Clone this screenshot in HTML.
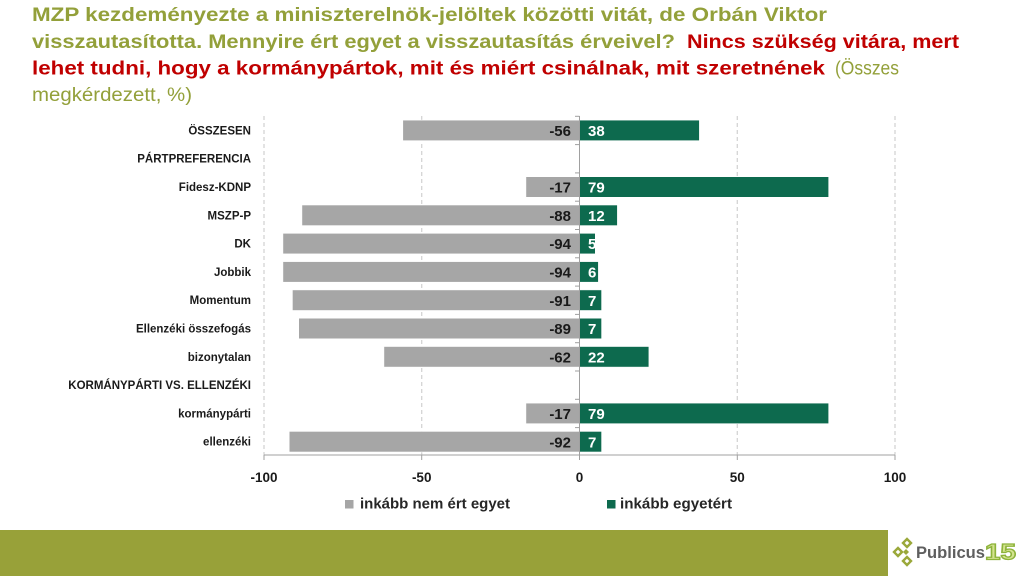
<!DOCTYPE html>
<html>
<head>
<meta charset="utf-8">
<style>
html,body{margin:0;padding:0;background:#fff;}
body{width:1024px;height:576px;overflow:hidden;}
svg{display:block;}
text{font-family:"Liberation Sans",Arial,sans-serif;}
</style>
</head>
<body>
<svg width="1024" height="576" viewBox="0 0 1024 576" xmlns="http://www.w3.org/2000/svg">
<rect width="1024" height="576" fill="#fff"/>

<!-- Title -->
<g font-size="19.5" font-weight="bold">
<text x="32" y="21" fill="#93a03a" textLength="795" lengthAdjust="spacingAndGlyphs">MZP kezdeményezte a miniszterelnök-jelöltek közötti vitát, de Orbán Viktor</text>
<text x="32" y="48" fill="#93a03a" textLength="643" lengthAdjust="spacingAndGlyphs">visszautasította. Mennyire ért egyet a visszautasítás érveivel?</text>
<text x="687" y="48" fill="#c00000" textLength="272" lengthAdjust="spacingAndGlyphs">Nincs szükség vitára, mert</text>
<text x="32" y="74.5" fill="#c00000" textLength="793" lengthAdjust="spacingAndGlyphs">lehet tudni, hogy a kormánypártok, mit és miért csinálnak, mit szeretnének</text>
</g>
<g font-size="19.5" font-weight="normal" fill="#93a03a">
<text x="835" y="74.5" textLength="64" lengthAdjust="spacingAndGlyphs">(Összes</text>
<text x="32" y="101" textLength="160" lengthAdjust="spacingAndGlyphs">megkérdezett, %)</text>
</g>

<!-- Gridlines -->
<g stroke="#d4d4d4" stroke-width="1.3" stroke-dasharray="4,3">
<line x1="264" y1="116" x2="264" y2="455"/>
<line x1="421.7" y1="116" x2="421.7" y2="455"/>
<line x1="737.3" y1="116" x2="737.3" y2="455"/>
<line x1="895" y1="116" x2="895" y2="455"/>
</g>

<!-- Bars -->
<g stroke="#ffffff" stroke-width="0.6">
<g fill="#a6a6a6">
<rect x="402.8" y="120.1" width="176.7" height="20.6"/>
<rect x="525.9" y="176.7" width="53.6" height="20.6"/>
<rect x="301.9" y="205.0" width="277.6" height="20.6"/>
<rect x="282.9" y="233.3" width="296.6" height="20.6"/>
<rect x="282.9" y="261.6" width="296.6" height="20.6"/>
<rect x="292.4" y="289.9" width="287.1" height="20.6"/>
<rect x="298.7" y="318.2" width="280.8" height="20.6"/>
<rect x="383.9" y="346.5" width="195.6" height="20.6"/>
<rect x="525.9" y="403.1" width="53.6" height="20.6"/>
<rect x="289.2" y="431.4" width="290.3" height="20.6"/>
</g>
<g fill="#0d6a4e">
<rect x="579.5" y="120.1" width="119.9" height="20.6"/>
<rect x="579.5" y="176.7" width="249.2" height="20.6"/>
<rect x="579.5" y="205.0" width="37.9" height="20.6"/>
<rect x="579.5" y="233.3" width="15.8" height="20.6"/>
<rect x="579.5" y="261.6" width="18.9" height="20.6"/>
<rect x="579.5" y="289.9" width="22.1" height="20.6"/>
<rect x="579.5" y="318.2" width="22.1" height="20.6"/>
<rect x="579.5" y="346.5" width="69.4" height="20.6"/>
<rect x="579.5" y="403.1" width="249.2" height="20.6"/>
<rect x="579.5" y="431.4" width="22.1" height="20.6"/>
</g>
</g>

<!-- Axes -->
<g stroke="#a0a0a0" stroke-width="1">
<line x1="579.5" y1="116" x2="579.5" y2="455"/>
<line x1="264" y1="455" x2="895" y2="455"/>
<line x1="575" y1="116.3" x2="579.5" y2="116.3"/>
<line x1="575" y1="144.6" x2="579.5" y2="144.6"/>
<line x1="575" y1="172.9" x2="579.5" y2="172.9"/>
<line x1="575" y1="201.2" x2="579.5" y2="201.2"/>
<line x1="575" y1="229.5" x2="579.5" y2="229.5"/>
<line x1="575" y1="257.8" x2="579.5" y2="257.8"/>
<line x1="575" y1="286.1" x2="579.5" y2="286.1"/>
<line x1="575" y1="314.4" x2="579.5" y2="314.4"/>
<line x1="575" y1="342.7" x2="579.5" y2="342.7"/>
<line x1="575" y1="371.0" x2="579.5" y2="371.0"/>
<line x1="575" y1="399.3" x2="579.5" y2="399.3"/>
<line x1="575" y1="427.6" x2="579.5" y2="427.6"/>
<line x1="264" y1="455" x2="264" y2="460"/>
<line x1="421.7" y1="455" x2="421.7" y2="460"/>
<line x1="579.5" y1="455" x2="579.5" y2="460"/>
<line x1="737.3" y1="455" x2="737.3" y2="460"/>
<line x1="895" y1="455" x2="895" y2="460"/>
</g>

<!-- Category labels -->
<g font-size="11.5" font-weight="bold" fill="#1a1a1a" text-anchor="end">
<text x="251" y="134.4">ÖSSZESEN</text>
<text x="251" y="162.7">PÁRTPREFERENCIA</text>
<text x="251" y="191.0">Fidesz-KDNP</text>
<text x="251" y="219.3">MSZP-P</text>
<text x="251" y="247.6">DK</text>
<text x="251" y="275.9">Jobbik</text>
<text x="251" y="304.2">Momentum</text>
<text x="251" y="332.5">Ellenzéki összefogás</text>
<text x="251" y="360.8">bizonytalan</text>
<text x="251" y="389.1">KORMÁNYPÁRTI VS. ELLENZÉKI</text>
<text x="251" y="417.4">kormánypárti</text>
<text x="251" y="445.7">ellenzéki</text>
</g>

<!-- Negative data labels -->
<g font-size="15" font-weight="bold" fill="#1a1a1a" text-anchor="end">
<text x="571" y="136">-56</text>
<text x="571" y="192.6">-17</text>
<text x="571" y="220.9">-88</text>
<text x="571" y="249.2">-94</text>
<text x="571" y="277.5">-94</text>
<text x="571" y="305.8">-91</text>
<text x="571" y="334.1">-89</text>
<text x="571" y="362.4">-62</text>
<text x="571" y="419.0">-17</text>
<text x="571" y="447.3">-92</text>
</g>
<!-- Positive data labels -->
<g font-size="15" font-weight="bold" fill="#ffffff">
<text x="588" y="136">38</text>
<text x="588" y="192.6">79</text>
<text x="588" y="220.9">12</text>
<text x="588" y="249.2">5</text>
<text x="588" y="277.5">6</text>
<text x="588" y="305.8">7</text>
<text x="588" y="334.1">7</text>
<text x="588" y="362.4">22</text>
<text x="588" y="419.0">79</text>
<text x="588" y="447.3">7</text>
</g>

<!-- Tick labels -->
<g font-size="13.5" font-weight="bold" fill="#1a1a1a" text-anchor="middle">
<text x="264" y="482">-100</text>
<text x="421.7" y="482">-50</text>
<text x="579.5" y="482">0</text>
<text x="737.3" y="482">50</text>
<text x="895" y="482">100</text>
</g>

<!-- Legend -->
<rect x="345" y="500" width="8.5" height="8.5" fill="#a6a6a6"/>
<text x="360" y="508.5" font-size="14.5" font-weight="bold" fill="#262626" textLength="150" lengthAdjust="spacingAndGlyphs">inkább nem ért egyet</text>
<rect x="607" y="500" width="8.5" height="8.5" fill="#0d6a4e"/>
<text x="620" y="508.5" font-size="14.5" font-weight="bold" fill="#262626" textLength="112" lengthAdjust="spacingAndGlyphs">inkább egyetért</text>

<!-- Footer band -->
<rect x="0" y="530" width="888" height="46" fill="#98a139"/>

<!-- Logo -->
<g fill="none" stroke="#9aa83a" stroke-width="2.4">
<path d="M907 539 L911 543 L907 547 L903 543 Z"/>
<path d="M898 548 L902 552 L898 556 L894 552 Z"/>
<path d="M907 557 L911 561 L907 565 L903 561 Z"/>
</g>
<path d="M906 549 L909 552 L906 555 L903 552 Z" fill="#9aa83a"/>
<text x="916" y="558" font-size="17" font-weight="bold" fill="#5f5f5f" textLength="69" lengthAdjust="spacingAndGlyphs">Publicus</text>
<text x="985" y="559.5" font-size="22" font-weight="bold" fill="#d3e38f" stroke="#8db33a" stroke-width="1.3" textLength="31" lengthAdjust="spacingAndGlyphs">15</text>
</svg>
</body>
</html>
